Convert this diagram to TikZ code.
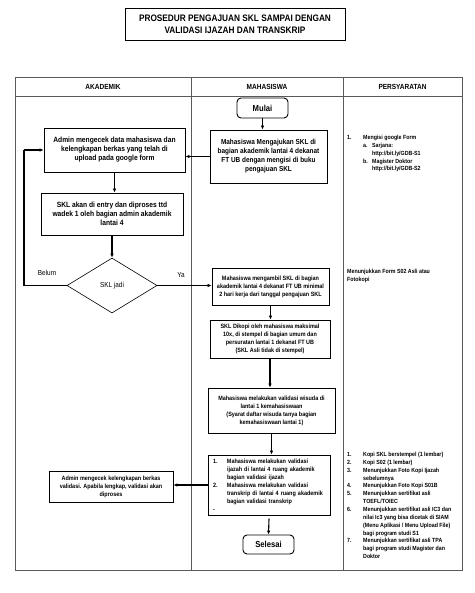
\documentclass[tikz,border=0pt]{standalone}
\usepackage{fontspec}
\setmainfont{Liberation Sans}[FakeStretch=0.88]
\usetikzlibrary{shapes.geometric,arrows.meta}

\tikzset{
  box/.style={draw,line width=0.9pt,align=center,inner sep=1pt,font=\bfseries\fontsize{7.3}{9}\selectfont},
  bigbox/.style={box,font=\bfseries\fontsize{7.6}{9}\selectfont},
  smallbox/.style={box,font=\bfseries\fontsize{6.2}{8}\selectfont},
  term/.style={draw,line width=0.9pt,rounded corners=4pt,inner sep=1pt,font=\bfseries\fontsize{8.7}{10}\selectfont},
  decision/.style={diamond,draw,line width=0.6pt,aspect=1.6,inner sep=0pt,font=\fontsize{7.3}{9}\selectfont},
  arr/.style={-{Latex[length=4pt,width=3.6pt]},line width=1.1pt},
  lane/.style={draw=black!65,line width=0.7pt},
  head/.style={font=\bfseries\fontsize{7.4}{9}\selectfont},
  req/.style={anchor=north west,align=left,inner sep=0pt,font=\bfseries\fontsize{6}{7.85}\selectfont},
  lbl/.style={font=\fontsize{7.3}{9}\selectfont}
}
\newcommand{\itm}[2]{\makebox[16pt][l]{#1}#2}
\newcommand{\cnt}[1]{\hspace*{16pt}#1}

\begin{document}
\begin{tikzpicture}[x=1pt,y=-1pt]
    \useasboundingbox (0,0) rectangle (474,593);

    % judul
    \node[draw,line width=0.6pt,minimum width=220pt,minimum height=32pt,align=center,
          font=\bfseries\fontsize{9.4}{12}\selectfont] (judul) at (235,24)
          {PROSEDUR PENGAJUAN SKL SAMPAI DENGAN\\VALIDASI IJAZAH DAN TRANSKRIP};

    % kolom
    \draw[lane] (15,77) rectangle (462,570);
    \draw[lane] (15,96) -- (462,96);
    \draw[lane] (191,77) -- (191,570);
    \draw[lane] (343,77) -- (343,570);
    \node[head] (hakad) at (103,86.5) {AKADEMIK};
    \node[head] (hmhs) at (267,86.5) {MAHASISWA};
    \node[head] (hsyar) at (402.5,86.5) {PERSYARATAN};

    % mahasiswa
    \node[term,minimum width=51pt,minimum height=20pt] (mulai) at (262.5,108) {Mulai};
    \node[box,minimum width=117pt,minimum height=53pt] (mhs1) at (268.5,156.5)
        {Mahasiswa Mengajukan SKL di\\bagian akademik lantai 4 dekanat\\FT UB dengan mengisi di buku\\pengajuan SKL};
    \node[smallbox,minimum width=117pt,minimum height=37pt] (mhs2) at (270.5,286.5)
        {Mahasiswa mengambil SKL di bagian\\akademik lantai 4 dekanat FT UB minimal\\2 hari kerja dari tanggal pengajuan SKL};
    \node[smallbox,minimum width=120pt,minimum height=38pt] (mhs3) at (270,339)
        {SKL Dikopi oleh mahasiswa maksimal\\10x, di stempel di bagian umum dan\\persuratan lantai 1 dekanat FT UB\\(SKL Asli tidak di stempel)};
    \node[smallbox,minimum width=127pt,minimum height=45pt] (mhs4) at (271.5,410.5)
        {Mahasiswa melakukan validasi wisuda di\\lantai 1 kemahasiswaan\\(Syarat daftar wisuda tanya bagian\\kemahasiswaan lantai 1)};
    \node[smallbox,minimum width=122pt,minimum height=60pt,text width=112pt,align=left] (mhs5) at (269,485)
        {\makebox[14pt][l]{1.}Mahasiswa melakukan validasi\\\hspace*{14pt}ijazah di lantai 4 ruang akademik\\\hspace*{14pt}bagian validasi ijazah\\
         \makebox[14pt][l]{2.}Mahasiswa melakukan validasi\\\hspace*{14pt}transkrip di lantai 4 ruang akademik\\\hspace*{14pt}bagian validasi transkrip\\-};
    \node[term,minimum width=51pt,minimum height=19pt] (selesai) at (268.5,544.5) {Selesai};

    % akademik
    \node[bigbox,minimum width=141pt,minimum height=44pt] (admin1) at (114.5,150)
        {Admin mengecek data mahasiswa dan\\kelengkapan berkas yang telah di\\upload pada google form};
    \node[bigbox,minimum width=142pt,minimum height=42pt] (entry) at (112,214)
        {SKL akan di entry dan diproses ttd\\wadek 1 oleh bagian admin akademik\\lantai 4};
    \node[decision,minimum width=90pt,minimum height=55pt] (jadi) at (112,285.5) {SKL jadi};
    \node[smallbox,minimum width=124pt,minimum height=31pt] (admin2) at (111,486.5)
        {Admin mengecek kelengkapan berkas\\validasi. Apabila lengkap, validasi akan\\diproses};
    \coordinate (balik) at (24,150);
    \node[lbl] (belum) at (47,273) {Belum};
    \node[lbl] (ya) at (181,275) {Ya};

    % persyaratan
    \node[req] (syarat1) at (347,135)
        {\itm{1.}{Mengisi google Form}\\
         \cnt{\makebox[9pt][l]{a.}Sarjana:}\\
         \cnt{\hspace*{9pt}http://bit.ly/GDB-S1}\\
         \cnt{\makebox[9pt][l]{b.}Magister Doktor}\\
         \cnt{\hspace*{9pt}http://bit.ly/GDB-S2}};
    \node[req] (syarat2) at (347,269)
        {Menunjukkan Form S02 Asli atau\\Fotokopi};
    \node[req] (syarat3) at (347,452)
        {\itm{1.}{Kopi SKL berstempel (1 lembar)}\\
         \itm{2.}{Kopi S02 (1 lembar)}\\
         \itm{3.}{Menunjukkan Foto Kopi Ijazah}\\
         \cnt{sebelumnya}\\
         \itm{4.}{Menunjukkan Foto Kopi S01B}\\
         \itm{5.}{Menunjukkan sertifikat asli}\\
         \cnt{TOEFL/TOIEC}\\
         \itm{6.}{Menunjukkan sertifikat asli IC3 dan}\\
         \cnt{nilai Ic3 yang bisa dicetak di SIAM}\\
         \cnt{(Menu Aplikasi / Menu Upload File)}\\
         \cnt{bagi program studi S1}\\
         \itm{7.}{Menunjukkan sertifikat asli TPA}\\
         \cnt{bagi program studi Magister dan}\\
         \cnt{Doktor}};

    % alur
    \draw[arr] (mulai) -- (mulai |- mhs1.north);
    \draw[arr] (mhs1.west) -- (mhs1.west -| admin1.east);
    \draw[arr] (admin1) -- (admin1 |- entry.north);
    \draw[arr] (entry.south -| jadi) -- (jadi.north);
    \draw[line width=1.1pt] (jadi.west) -| (balik);
    \draw[arr] (balik) -- (admin1.west);
    \draw[arr] (jadi.east) -- (jadi.east -| mhs2.west);
    \draw[arr] (mhs2.south) -- (mhs2.south |- mhs3.north);
    \draw[arr] (mhs3.south) -- (mhs3.south |- mhs4.north);
    \draw[arr] (mhs4.south) -- (mhs4.south |- mhs5.north);
    \draw[arr] (mhs5.west) -- (mhs5.west -| admin2.east);
    \draw[arr] (mhs5.south |- selesai.north) ++(0,-16) -- (selesai.north);
\end{tikzpicture}
\end{document}
